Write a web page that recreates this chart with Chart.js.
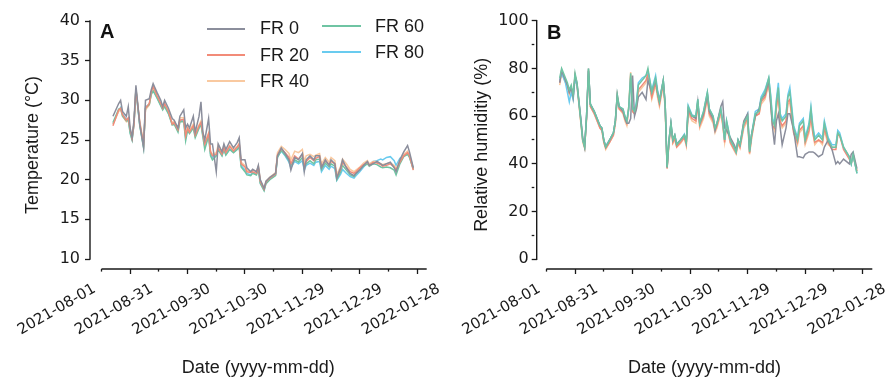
<!DOCTYPE html>
<html><head><meta charset="utf-8">
<script src="https://cdn.jsdelivr.net/npm/chart.js@4.4.1/dist/chart.umd.min.js"></script>
<style>
html,body{margin:0;padding:0;background:#fff;overflow:hidden;width:891px;height:379px;}
#wrap{position:relative;width:891px;height:379px;}
canvas{position:absolute;top:0;}
.panel{position:absolute;font:bold 20px "Liberation Sans",Arial,sans-serif;color:#111;line-height:20px;}
.legtxt{position:absolute;font:18px "Liberation Sans",Arial,sans-serif;color:#1a1a1a;line-height:21px;white-space:nowrap;}
.legsw{position:absolute;height:0;border-top:2px solid;}
</style></head>
<body>
<div id="wrap">
<canvas id="cA" width="470" height="379" style="left:0px"></canvas>
<canvas id="cB" width="445" height="379" style="left:446px"></canvas>
<div class="panel" style="left:100px;top:21px">A</div>
<div class="panel" style="left:547px;top:22px">B</div>
<div id="legend"></div>
</div>
<script>
// ---------- data ----------
const seriesNames = ['FR 0', 'FR 20', 'FR 40', 'FR 60', 'FR 80'];
const xTickDays = [0, 15, 30, 45, 60, 75, 90, 105, 120, 135, 150, 165, 180]; // days since 2021-08-01
const xTickLabels = ['2021-08-01', '2021-08-31', '2021-09-30', '2021-10-30', '2021-11-29', '2021-12-29', '2022-01-28'];
const tempYTicks = [10, 12.5, 15, 17.5, 20, 22.5, 25, 27.5, 30, 32.5, 35, 37.5, 40];
const rhYTicks = [0, 10, 20, 30, 40, 50, 60, 70, 80, 90, 100];

const tempDays = [6,9,10,11,13,14,15,16,17,18, 20,22,23,25,26,27,29,31,32,33, 35,37,38,40,41,43,44,45,46,48,
  49,51,52,53,54,56,57,58,60,61, 63,64,65,67,69,71,72,73,75,76, 78,79,81,82,83,85,86,88,91,92,
  94,96,98,99,101,103,105,106,107,109, 111,112,114,115,117,119,120,122,123,125,
  126,128,130,132,133,135,137,139,140,142, 144,146,147,149,151,153,154,156,158,160, 161,163];
const tempFR0 = [28.0,29.6,30.0,28.6,28.0,29.2,26.5,25.3,27.5,31.9, 27.0,24.1,30.0,30.2,31.3,32.1,31.0,30.0,29.2,30.0,
  29.0,27.7,27.5,26.5,28.0,28.8,26.5,27.0,26.5,28.0, 26.0,28.0,29.8,26.0,25.0,27.7,24.5,24.5,21.0,24.5,
  23.5,24.5,23.8,24.8,24.0,24.7,25.3,22.5,22.5,21.5, 21.0,21.3,21.0,21.8,20.0,18.9,19.8,20.3,20.8,23.0,
  24.0,23.3,22.5,21.2,22.8,22.5,23.3,21.0,22.5,23.0, 22.5,23.0,23.0,21.5,22.5,21.8,22.5,22.0,20.2,21.5,
  22.5,21.5,20.8,20.5,20.8,21.2,21.8,22.3,21.8,22.0, 22.3,22.0,21.8,22.0,22.2,21.5,21.0,22.5,23.5,24.3, 23.5,21.5];
const tempFR20 = [26.8,28.8,29.0,28.2,27.5,27.8,26.3,25.2,27.0,31.4, 27.2,24.4,29.0,29.6,31.0,31.8,30.6,29.6,29.0,29.6,
  28.6,27.0,27.2,26.3,27.5,27.6,25.5,26.5,26.0,26.8, 25.6,26.8,27.2,25.8,24.5,25.8,23.5,23.0,23.2,24.0,
  23.2,24.0,23.4,24.2,23.6,24.1,24.5,22.0,21.6,21.0, 20.9,21.0,20.8,21.6,19.8,18.8,19.7,20.2,20.7,23.1,
  23.9,23.4,22.8,22.0,23.0,22.6,23.2,21.8,22.3,22.8, 22.4,22.7,22.9,21.6,22.4,21.9,22.3,22.0,20.3,21.3,
  22.2,21.6,21.0,20.8,21.0,21.5,21.9,22.2,21.8,22.2, 22.1,21.9,21.7,21.8,22.0,21.6,21.2,22.2,23.0,23.4, 23.0,21.2];
const tempFR40 = [27.0,28.6,28.9,28.0,27.3,27.6,26.2,25.4,27.2,31.3, 27.4,24.5,28.8,29.4,30.8,31.5,30.5,29.5,29.1,29.5,
  28.5,27.1,27.4,26.4,27.8,27.8,25.8,26.6,26.2,27.0, 25.8,26.9,27.4,25.9,24.6,25.9,23.6,23.2,23.4,24.4,
  23.5,24.3,23.6,24.3,23.8,24.2,24.6,22.2,21.8,21.2, 21.0,21.2,21.0,21.7,19.9,18.9,19.8,20.3,20.9,23.4,
  24.2,23.8,23.3,22.5,23.6,23.4,23.8,22.3,23.0,23.2, 22.9,23.1,23.3,22.0,22.8,22.2,22.8,22.4,20.6,21.7,
  22.6,22.0,21.3,21.0,21.2,21.6,22.1,22.4,22.0,22.3, 22.3,22.0,21.9,22.0,22.1,21.8,21.4,22.4,23.2,23.6, 23.2,21.4];
const tempFR60 = [27.2,28.9,29.0,28.0,27.4,27.5,25.8,25.0,27.0,31.5, 26.8,24.0,29.0,29.5,30.7,31.2,30.3,29.3,28.8,29.2,
  28.3,26.9,27.0,26.0,27.3,27.3,24.9,26.2,25.8,26.5, 25.3,26.5,27.0,25.4,23.8,25.5,23.0,22.5,23.0,23.8,
  23.0,23.8,23.1,23.8,23.4,23.8,24.1,21.6,21.0,20.6, 20.5,20.8,20.6,21.3,19.5,18.6,19.5,20.0,20.5,22.8,
  23.7,23.1,22.4,21.8,22.5,22.2,22.8,21.5,22.0,22.4, 22.0,22.5,22.6,21.3,22.1,21.6,22.0,21.7,20.0,21.0,
  21.8,21.2,20.6,20.4,20.7,21.3,21.7,22.0,21.7,22.0, 21.9,21.6,21.5,21.6,21.5,21.2,20.6,22.0,22.9,23.2, 22.8,21.3];
const tempFR80 = [27.0,28.7,29.1,28.3,27.6,27.7,26.0,25.1,27.1,31.2, 27.0,24.2,29.2,29.5,30.9,31.4,30.4,29.4,28.9,29.4,
  28.4,27.0,27.1,26.2,27.5,27.5,25.3,26.4,26.0,26.6, 25.5,26.6,27.1,25.6,24.2,25.6,23.3,22.8,23.1,24.0,
  23.1,23.9,23.2,23.9,23.5,23.9,24.2,21.8,21.2,20.8, 20.6,20.9,20.7,21.4,19.6,18.7,19.6,20.1,20.6,22.9,
  23.6,23.0,22.2,21.5,22.3,22.0,22.4,21.2,21.8,22.1, 21.8,22.2,22.3,21.0,21.8,21.3,21.7,21.4,19.9,20.7,
  21.3,20.8,20.4,20.2,20.5,21.0,21.6,22.1,21.9,22.3, 22.4,22.6,22.5,22.8,22.9,22.4,21.8,22.7,23.0,23.3, 22.9,21.4];

const rhDays = [7,8,10,11,12,13,14,15,16,18, 19,20,21,22,23,25,27,28,29,30, 31,33,35,36,37,38,40,41,42,43,
  44,45,46,47,48,50,52,53,55,57, 58,59,61,62,63,64,65,66,67,68, 70,72,73,74,76,78,79,80,82,84,
  85,87,88,89,91,92,93,94,96,98, 99,100,101,103,105,106,107,109,111,112, 114,116,117,118,119,120,121,122,123,125,
  126,127,129,131,132,134,135,137,138,139, 140,142,144,145,147,149,151,152,153,155, 158,159,160,162];
const rhFR0 = [74,79,75,73,70,72,68,77,74,59, 51,47,60,80,65,62,58,56,55,50, 47,50,53,58,69,64,62,59,57,57,
  59,77,60,63,68,70,67,75,70,75, 70,66,75,65,38.5,50,57,50,52,48, 50,52,49,63,60,59,66,57,61,69,
  62,59,54,57,64,66,55,54,51,48, 46,50,48,58,61,46,52,60,63,67, 69,75,65,55,48,58,61,55,48,55,
  61,61,54,43,43,42.5,44,45,45,45, 44.5,43,44,47,50,46,40,41,40,42, 40,44,45,38];
const rhFR20 = [74,79,75,73,70,72,68,77,73,58, 50,47,59,79,64,61,57,55,54,49, 46.5,49,52,57,68,63,61.5,59,57,63,
  77,62,61,64,71,73,75,78,68,74, 69,65,74,64,38,49,56,49,51,47, 49,51,48,62,59,58,66,56,60,68,
  61,58,54,56,62,57,49,57,49,46, 44.5,49,47,56,59,44.5,51,60,61,66, 68,74,66,56,55,64,69,58,56,58,
  66,67,53,49,54,56,49,54,60,53, 49,50,49,55,49,46,46,52,52,46, 42,40,43,37];
const rhFR40 = [73,78,74,72,69,71,67,76,73,57, 49,46.5,59,79,64,61,57,55,54,49, 46,49,52,57,68,63,61,58,56,64,
  78.5,62,61,63,70,72,74,77,67,73, 68,64,73,63,38.5,49,56,48.5,50,47, 48.5,51,47.5,61,58,57,65,55,59,67,
  60,57,53,55,61,56,49,56,48.5,45.5, 44,48.5,46.5,55,58,44,50,60,61,65, 67,73,66,56,54,63,68,57,55,57,
  65,66,53,48,53,55,48,53,59,53, 48,50,48,54,48,47,47,53,52,47, 43,41,44,37];
const rhFR60 = [76,80,76,74,71,73,69,78,74,58, 50,47,60,80,65,62,58,56,55,50, 47,50,53,58,69,64,63,60,58,64,
  78,63,62,65,73,75,77,80,70,76, 70,66,75,65,38.5,50,57,50,52,48, 50,52,49,64,60,60,67,57,62,70,
  63,60,55,57,63,58,50,58,50,47, 45,50,48,57,60,45,52,61,62,67, 70,76,68,58,56,66,72,60,58,60,
  68,70,55,50,56,58,50,56,63,55, 50,52,50,57,50,47,47,53,52,47, 43,40,44,36];
const rhFR80 = [75,78,74,70,66,70,67,76,73,59, 50,47.5,60,79,65,62,58,56,55,50, 47.5,50,53,58,68,64,63,60,58,63,
  76,64,62,66,74,76,77,79,71,77, 71,67,75,65,39,50,57,50,52,48.5, 50,52.5,49,64.5,60.5,60,67,57,62,70,
  63,60,55,57,63,58,50,58,50,47, 45,50,48,57,61,45.5,52,62,63,68, 71,76,69,59,57,67,74,61,59,61,
  69,72,56,51,57,59,51,57,64,56, 51,53,51,58,51,48,48,54,53,47, 43,40,44,36];

// ---------- styling ----------
const colors = ['#8b8e9c', '#f28b78', '#f9c9a0', '#6fc4a3', '#69cbef'];
const ink = '#1a1a1a';
const tickFont = {family: 'DejaVu Sans', size: 16};
const dateFont = {family: 'DejaVu Sans', size: 15};
const titleFont = {family: 'Liberation Sans', size: 18};

function pts(days, vals) { return days.map((d, i) => ({x: d, y: vals[i]})); }
function makeSets(days, arrs, orders) {
  return arrs.map((a, i) => ({
    label: seriesNames[i], data: pts(days, a), borderColor: colors[i], backgroundColor: colors[i],
    borderWidth: 1.5, pointRadius: 0, tension: 0, fill: false, order: orders[i]
  }));
}

const axisLines = {
  id: 'axisLines',
  afterDraw(chart, args, o) {
    const {ctx} = chart; const x = chart.scales.x, y = chart.scales.y;
    ctx.save();
    ctx.strokeStyle = ink; ctx.lineWidth = 1.4; ctx.lineCap = 'butt';
    ctx.beginPath();
    ctx.moveTo(y.right, y.getPixelForValue(o.yTop) - 0.7);
    ctx.lineTo(y.right, y.getPixelForValue(o.yBottom) + 0.7);
    ctx.moveTo(x.getPixelForValue(o.xStart), x.top);
    ctx.lineTo(x.getPixelForValue(o.xEnd), x.top);
    ctx.stroke();
    ctx.restore();
  }
};

function xScale(min) {
  return {
    type: 'linear', min: min, max: 170,
    afterBuildTicks: s => { s.ticks = xTickDays.map(v => ({value: v})); },
    afterFit: s => { s.height = 110; s.paddingLeft = 0; s.paddingRight = 0; },
    border: {display: false},
    grid: {drawOnChartArea: false, drawTicks: true, tickLength: 5, tickWidth: 1.3,
      tickColor: c => (c.tick && c.tick.value > 170) ? 'rgba(0,0,0,0)' : ink,
      tickBorderDash: c => (c.tick && c.tick.value % 30 === 15) ? [] : [2.6, 40]},
    ticks: {autoSkip: false, minRotation: 30, maxRotation: 30, padding: 6, labelOffset: -7,
      color: ink, font: dateFont,
      callback: v => (v % 30 === 0) ? xTickLabels[v / 30] : ''},
    title: {display: true, text: 'Date (yyyy-mm-dd)', color: ink, font: titleFont, padding: {top: 0, bottom: 0}}
  };
}
function yScale(min, max, ticksArr, majorStep, width, title, titlePad, labPad) {
  return {
    type: 'linear', min: min, max: max,
    afterBuildTicks: s => { s.ticks = ticksArr.map(v => ({value: v})); },
    afterFit: s => { s.width = width; s.paddingTop = 0; s.paddingBottom = 0; },
    border: {display: false},
    grid: {drawOnChartArea: false, drawTicks: true, tickLength: 5, tickColor: ink, tickWidth: 1.3,
      tickBorderDash: c => (c.tick && c.tick.value % majorStep === 0) ? [] : [2.6, 40]},
    ticks: {padding: labPad, color: ink, font: tickFont,
      callback: v => (v % majorStep === 0) ? String(v) : ''},
    title: {display: true, text: title, color: ink, font: titleFont, padding: {top: titlePad, bottom: 0}}
  };
}

const common = {
  responsive: false, animation: false, devicePixelRatio: 1,
  plugins: {legend: {display: false}, tooltip: {enabled: false}}
};

const chartA = new Chart(document.getElementById('cA'), {
  type: 'line',
  data: {datasets: makeSets(tempDays, [tempFR0, tempFR20, tempFR40, tempFR60, tempFR80], [0, 1, 3, 2, 4])},
  options: Object.assign({}, common, {
    layout: {padding: {top: 21, right: 43.3, bottom: 0, left: 0}},
    scales: {x: xScale(-6), y: yScale(8.74, 40, tempYTicks, 5, 90, 'Temperature (°C)', 22, 5)},
    plugins: Object.assign({}, common.plugins, {axisLines: {yTop: 40, yBottom: 10, xStart: 0, xEnd: 170}})
  }),
  plugins: [axisLines]
});

const chartB = new Chart(document.getElementById('cB'), {
  type: 'line',
  data: {datasets: makeSets(rhDays, [rhFR0, rhFR20, rhFR40, rhFR60, rhFR80], [1, 3, 4, 0, 2])},
  options: Object.assign({}, common, {
    layout: {padding: {top: 20.7, right: 18.7, bottom: 0, left: 0}},
    scales: {x: xScale(-5), y: yScale(-4.07, 100, rhYTicks, 20, 90.7, 'Relative humiditiy (%)', 25, 3)},
    plugins: Object.assign({}, common.plugins, {axisLines: {yTop: 100, yBottom: 0, xStart: 0, xEnd: 170}})
  }),
  plugins: [axisLines]
});

// ---------- legend (HTML, built from chart A datasets) ----------
const legendSlots = [
  {sx: 207, sw: 38, tx: 260, cy: 28.5},
  {sx: 207, sw: 38, tx: 260, cy: 54.8},
  {sx: 207, sw: 38, tx: 260, cy: 81.3},
  {sx: 322, sw: 39, tx: 375, cy: 25.8},
  {sx: 322, sw: 39, tx: 375, cy: 52.3}
];
const leg = document.getElementById('legend');
chartA.data.datasets.forEach((ds, i) => {
  const s = legendSlots[i];
  const sw = document.createElement('div');
  sw.className = 'legsw';
  sw.style.left = s.sx + 'px'; sw.style.width = s.sw + 'px'; sw.style.top = (s.cy - 1) + 'px';
  sw.style.borderTopColor = ds.borderColor;
  leg.appendChild(sw);
  const t = document.createElement('div');
  t.className = 'legtxt';
  t.style.left = s.tx + 'px'; t.style.top = (s.cy - 10.3) + 'px';
  t.textContent = ds.label;
  leg.appendChild(t);
});
</script>
</body></html>
